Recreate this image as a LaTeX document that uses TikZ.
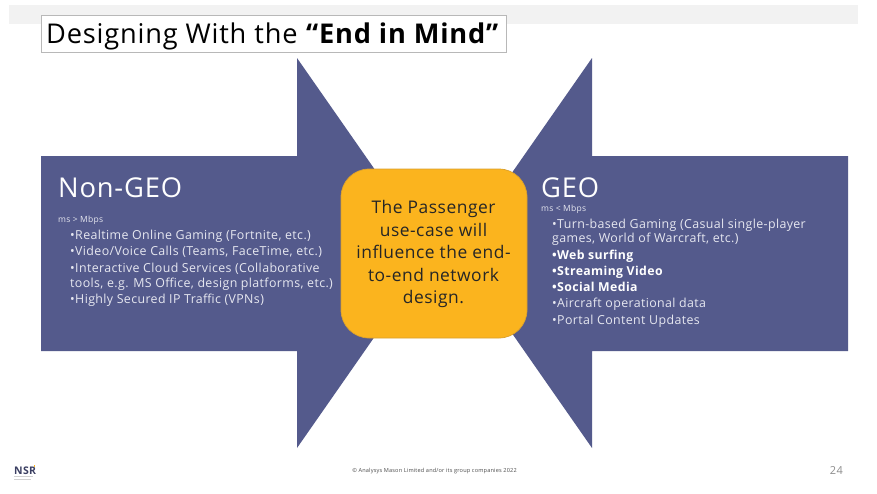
\documentclass[tikz,border=0pt]{standalone}
\usepackage{fontspec}
\setmainfont[LetterSpace=3]{Open Sans}
\definecolor{arrowblue}{HTML}{545A8C}
\definecolor{boxamber}{HTML}{FBB41E}
\definecolor{boxedge}{HTML}{D9A02E}
\definecolor{bandgray}{HTML}{F2F2F2}
\definecolor{lighttext}{HTML}{E6E7F0}
\tikzset{
 x=1pt,y=-1pt,
 arrowshape/.style={fill=arrowblue,draw=none},
 head/.style={anchor=base west,inner sep=0pt,text=white,font=\fontsize{27.3}{30}\selectfont},
 subhead/.style={anchor=base west,inner sep=0pt,text=lighttext,font=\fontsize{8.5}{10}\selectfont},
 item/.style={anchor=base west,inner sep=0pt,text=lighttext,font=\fontsize{12.4}{15}\selectfont},
 bolditem/.style={item,text=white,font=\fontsize{12.3}{15}\selectfont\bfseries},
 logoline/.style={draw=black!18,line width=0.4pt},
}
\begin{document}
\begin{tikzpicture}
\useasboundingbox (0,0) rectangle (877,493);
\fill[white] (0,0) rectangle (877,493);
\fill[bandgray] (9,5) rectangle (858,24);
\node[draw=black!28,fill=white,line width=0.8pt,minimum width=465,minimum height=37,inner sep=0pt,anchor=north west] (titlebox) at (41,15) {};
\node[anchor=base west,inner sep=0pt,font=\fontsize{27.2}{30}\selectfont] (title) at (46,43) {Designing With the \textbf{“End in Mind”}};
\path[arrowshape] (41,156) -- (297,156) -- (297,58) -- (433,253) -- (297,448) -- (297,351) -- (41,351) -- cycle;
\path[arrowshape] (848,156) -- (592,156) -- (592,58) -- (456,253) -- (592,448) -- (592,351) -- (848,351) -- cycle;
\node[draw=boxedge,fill=boxamber,line width=0.7pt,rounded corners=28,minimum width=186,minimum height=169,inner sep=0pt] (centerbox) at (434,253.5) {};
\node[align=center,inner sep=0pt,text=black!85,font=\fontsize{17.4}{22.5}\selectfont] (centertext) at (433.5,254) {The Passenger\\use-case will\\influence the end-\\to-end network\\design.};
% left block
\node[head] (ngeo) at (58,197) {Non-GEO};
\node[subhead] (ngeosub) at (58,222) {ms > Mbps};
\node[item] (l1) at (70,239) {•Realtime Online Gaming (Fortnite, etc.)};
\node[item] (l2) at (70,255.5) {•Video/Voice Calls (Teams, FaceTime, etc.)};
\node[item] (l3) at (70,272) {•Interactive Cloud Services (Collaborative};
\node[item] (l4) at (70,287) {tools, e.g. MS Office, design platforms, etc.)};
\node[item] (l5) at (70,303) {•Highly Secured IP Traffic (VPNs)};
% right block
\node[head] (geo) at (541,197) {GEO};
\node[subhead] (geosub) at (541,211) {ms < Mbps};
\node[item] (r1) at (552,228) {•Turn-based Gaming (Casual single-player};
\node[item] (r2) at (552,242) {games, World of Warcraft, etc.)};
\node[bolditem] (r3) at (552,259) {•Web surfing};
\node[bolditem] (r4) at (552,275) {•Streaming Video};
\node[bolditem] (r5) at (552,291.5) {•Social Media};
\node[item] (r6) at (552,307.5) {•Aircraft operational data};
\node[item] (r7) at (552,324) {•Portal Content Updates};
% footer
\node[anchor=base west,inner sep=0pt,text=arrowblue!70!black,font=\fontsize{10.5}{12}\selectfont\bfseries] (nsr) at (14,474) {NSR};
\fill[boxamber] (33.5,465) rectangle (35,467);
\draw[logoline] (14,476.5) -- (33,476.5);
\draw[logoline] (14,479.5) -- (31,479.5);
\node[anchor=base,inner sep=0pt,text=black!70,font=\fontsize{5.6}{7}\selectfont] (copy) at (434.5,472) {© Analysys Mason Limited and/or its group companies 2022};
\node[anchor=base east,inner sep=0pt,text=black!45,font=\fontsize{11}{13}\selectfont] (page) at (843,474) {24};
\end{tikzpicture}
\end{document}
